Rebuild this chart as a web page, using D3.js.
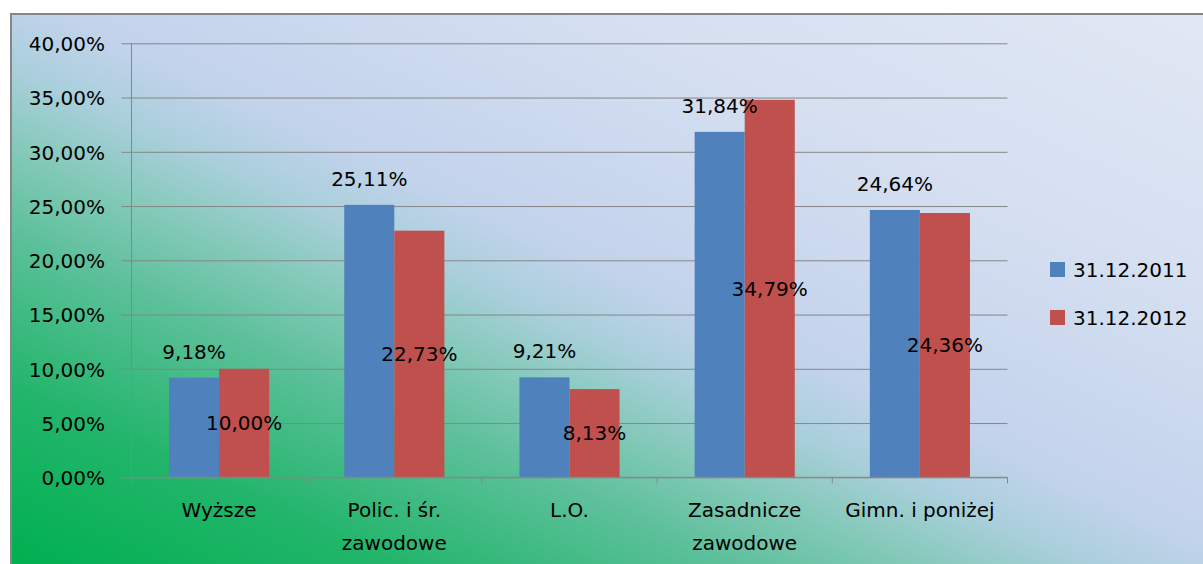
<!DOCTYPE html>
<html>
<head>
<meta charset="utf-8">
<script src="https://cdn.jsdelivr.net/npm/d3@7"></script>
<style>
  html, body { margin: 0; padding: 0; background: #ffffff; }
  svg { display: block; }
  text { font-family: "DejaVu Sans", sans-serif; fill: #000; }
</style>
</head>
<body>
<svg id="chart" width="1203" height="564"></svg>
<script>
// ---- data ----
const categories = ["Wyższe", "Polic. i śr.\nzawodowe", "L.O.", "Zasadnicze\nzawodowe", "Gimn. i poniżej"];
const seriesNames = ["31.12.2011", "31.12.2012"];
const values2011 = [9.18, 25.11, 9.21, 31.84, 24.64];
const values2012 = [10.00, 22.73, 8.13, 34.79, 24.36];
const yTicks = [0, 5, 10, 15, 20, 25, 30, 35, 40];
const colors = ["#4f81bd", "#c0504d"];

const fmt = v => v.toFixed(2).replace(".", ",") + "%";

const svg = d3.select("#chart");
const W = 1203, H = 564;
const fontSize = 20;

// ---- background gradient ----
const defs = svg.append("defs");
const grad = defs.append("linearGradient")
  .attr("id", "bg").attr("gradientUnits", "objectBoundingBox")
  .attr("x1", 0).attr("y1", 1).attr("x2", 1).attr("y2", 0);
[[0, "#00b050"], [0.16, "#22b56b"], [0.3, "#5cc09a"], [0.38, "#84c9b9"],
 [0.45, "#a9cfdb"], [0.52, "#c3d3ec"], [0.76, "#d6e0f1"], [1, "#e1e8f5"]]
  .forEach(([o, c]) => grad.append("stop").attr("offset", o).attr("stop-color", c));

const bx = 10, by = 13;
svg.append("rect").attr("x", bx).attr("y", by).attr("width", W - bx).attr("height", H - by)
  .attr("fill", "url(#bg)");
// border (left and top visible)
svg.append("path").attr("d", `M${bx + 1},${H} V${by + 1} H${W}`)
  .attr("fill", "none").attr("stroke", "#868686").attr("stroke-width", 2);

// ---- scales ----
const plotL = 131.5, plotR = 1007.5, plotT = 43.3, plotB = 477.3;
const x = d3.scaleBand().domain(categories).range([plotL, plotR]).paddingInner(0).paddingOuter(0);
const y = d3.scaleLinear().domain([0, 40]).range([plotB, plotT]);
const bw = x.bandwidth() / 3.5;
const sub = d3.scaleBand().domain(seriesNames)
  .range([0.75 * bw, 2.75 * bw]).padding(0);

// gridlines
svg.append("g").attr("transform", `translate(${plotL},0)`)
  .call(d3.axisLeft(y).tickValues(yTicks).tickSize(-(plotR - plotL)).tickFormat(""))
  .call(g => g.select(".domain").remove())
  .call(g => g.selectAll("line").attr("stroke", "#868686").attr("stroke-width", 1));

// y axis
svg.append("g").attr("transform", `translate(${plotL},0)`)
  .call(d3.axisLeft(y).tickValues(yTicks).tickSize(10).tickPadding(16.5).tickFormat(fmt))
  .call(g => g.select(".domain").attr("stroke", "#868686").attr("d", `M0,${plotB}V${plotT}`))
  .call(g => g.selectAll("line").attr("stroke", "#868686"))
  .call(g => g.selectAll("text").attr("font-size", fontSize).attr("font-family", "DejaVu Sans")
    .attr("dy", null).attr("y", 7.3));

// bars
const rows = categories.map((c, i) => ({ c, v: [values2011[i], values2012[i]] }));
const groups = svg.append("g").selectAll("g").data(rows).join("g")
  .attr("transform", d => `translate(${x(d.c)},0)`);
groups.selectAll("rect").data(d => d.v.map((v, k) => ({ v, k })))
  .join("rect")
  .attr("x", d => sub(seriesNames[d.k]))
  .attr("width", sub.bandwidth())
  .attr("y", d => y(d.v))
  .attr("height", d => y(0) - y(d.v))
  .attr("fill", d => colors[d.k]);

// x axis line and ticks
svg.append("line").attr("x1", plotL).attr("x2", plotR).attr("y1", plotB).attr("y2", plotB)
  .attr("stroke", "#868686");
const bounds = categories.map(c => x(c)).concat([plotR]);
svg.append("g").selectAll("line").data(bounds).join("line")
  .attr("x1", d => d).attr("x2", d => d).attr("y1", plotB).attr("y2", plotB + 6)
  .attr("stroke", "#868686");

// category labels
const cl = svg.append("g").selectAll("text").data(categories).join("text")
  .attr("text-anchor", "middle").attr("font-size", fontSize)
  .attr("x", d => x(d) + x.bandwidth() / 2).attr("y", 517);
cl.selectAll("tspan").data(d => d.split("\n")).join("tspan")
  .attr("x", function () { return d3.select(this.parentNode).attr("x"); })
  .attr("dy", (d, i) => i === 0 ? 0 : 33)
  .text(d => d);

// data labels
groups.selectAll("text").data(d => d.v.map((v, k) => ({ v, k })))
  .join("text")
  .attr("text-anchor", "middle").attr("font-size", fontSize)
  .attr("x", d => sub(seriesNames[d.k]) + sub.bandwidth() / 2)
  .attr("y", d => d.k === 0 ? y(d.v) - 19 : (y(d.v) + y(0)) / 2 + 7.3)
  .text(d => fmt(d.v));

// legend
const lg = svg.append("g").selectAll("g").data(seriesNames).join("g")
  .attr("transform", (d, i) => `translate(1050,${262 + i * 48})`);
lg.append("rect").attr("width", 15).attr("height", 15).attr("fill", (d, i) => colors[i]);
lg.append("text").attr("x", 23).attr("y", 15.3).attr("font-size", fontSize).text(d => d);
</script>
</body>
</html>
